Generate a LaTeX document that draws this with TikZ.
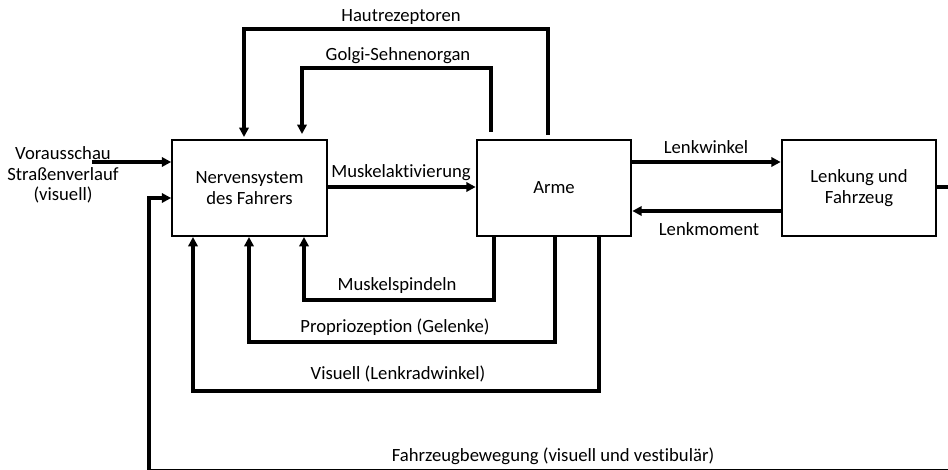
\documentclass[tikz,border=0pt]{standalone}
\usepackage{fontspec}
\setmainfont{Carlito}[Ligatures=NoCommon]
\usetikzlibrary{arrows.meta}
\begin{document}
\begin{tikzpicture}[x=0.75pt,y=-0.75pt,
  every node/.style={font=\fontsize{14}{15.4}\selectfont},
  block/.style={draw, line width=1.5pt, minimum width=116pt, minimum height=72pt,
                inner sep=0pt, align=center},
  lbl/.style={inner sep=0pt, align=center},
  wire/.style={line width=2.3pt},
  arr/.style={wire, -{Triangle[length=7pt,width=7pt]}}]
  \useasboundingbox (0,0) rectangle (948,470);

  % blocks
  \node[block] (nerv) at (249.5,188) {Nervensystem\\des Fahrers};
  \node[block] (arme) at (554,188) {Arme};
  \node[block] (lenk) at (859,188) {Lenkung und\\Fahrzeug};

  % free ends
  \coordinate (vin) at (92,162);
  \coordinate (out) at (950,187);
  \coordinate (fbR) at (950,470.2);
  \coordinate (fbL) at (149,470.2);

  % inputs
  \node[lbl] (vtext) at (63,175) {Vorausschau\\Straßenverlauf\\(visuell)};
  \draw[arr] (vin) -- (vin -| nerv.west);
  \draw[arr] (fbR) -- (fbL) -- (149,198) -- (149,198 -| nerv.west);
  \node[lbl] (fblbl) at (553,456) {Fahrzeugbewegung (visuell und vestibulär)};

  % forward path
  \draw[arr] (nerv.east |- 0,187) -- (arme.west |- 0,187);
  \node[lbl] (maktiv) at (401,173) {Muskelaktivierung};
  \draw[arr] (arme.east |- 0,162) -- (lenk.west |- 0,162);
  \node[lbl] (lw) at (706,147) {Lenkwinkel};
  \draw[arr] (lenk.west |- 0,211) -- (arme.east |- 0,211);
  \node[lbl] (lm) at (709,229) {Lenkmoment};
  \draw[wire] (lenk.east |- out) -- (out);

  % upper feedback loops
  \draw[arr] (548,135) -- (548,29) -- (244,29) -- (244,137);
  \node[lbl] (haut) at (401,17) {Hautrezeptoren};
  \draw[arr] (491,132) -- (491,68) -- (302,68) -- (302,134);
  \node[lbl] (golgi) at (398,56) {Golgi-Sehnenorgan};

  % lower feedback loops
  \draw[arr] (494,236 |- arme.south) -- (494,300) -- (304,300) -- (304,236 |- nerv.south);
  \node[lbl] (spindel) at (397,286) {Muskelspindeln};
  \draw[arr] (555,236 |- arme.south) -- (555,342) -- (249,342) -- (249,236 |- nerv.south);
  \node[lbl] (proprio) at (395,327) {Propriozeption (Gelenke)};
  \draw[arr] (599,236 |- arme.south) -- (599,391) -- (193,391) -- (193,236 |- nerv.south);
  \node[lbl] (visuell) at (398,374) {Visuell (Lenkradwinkel)};
\end{tikzpicture}
\end{document}
